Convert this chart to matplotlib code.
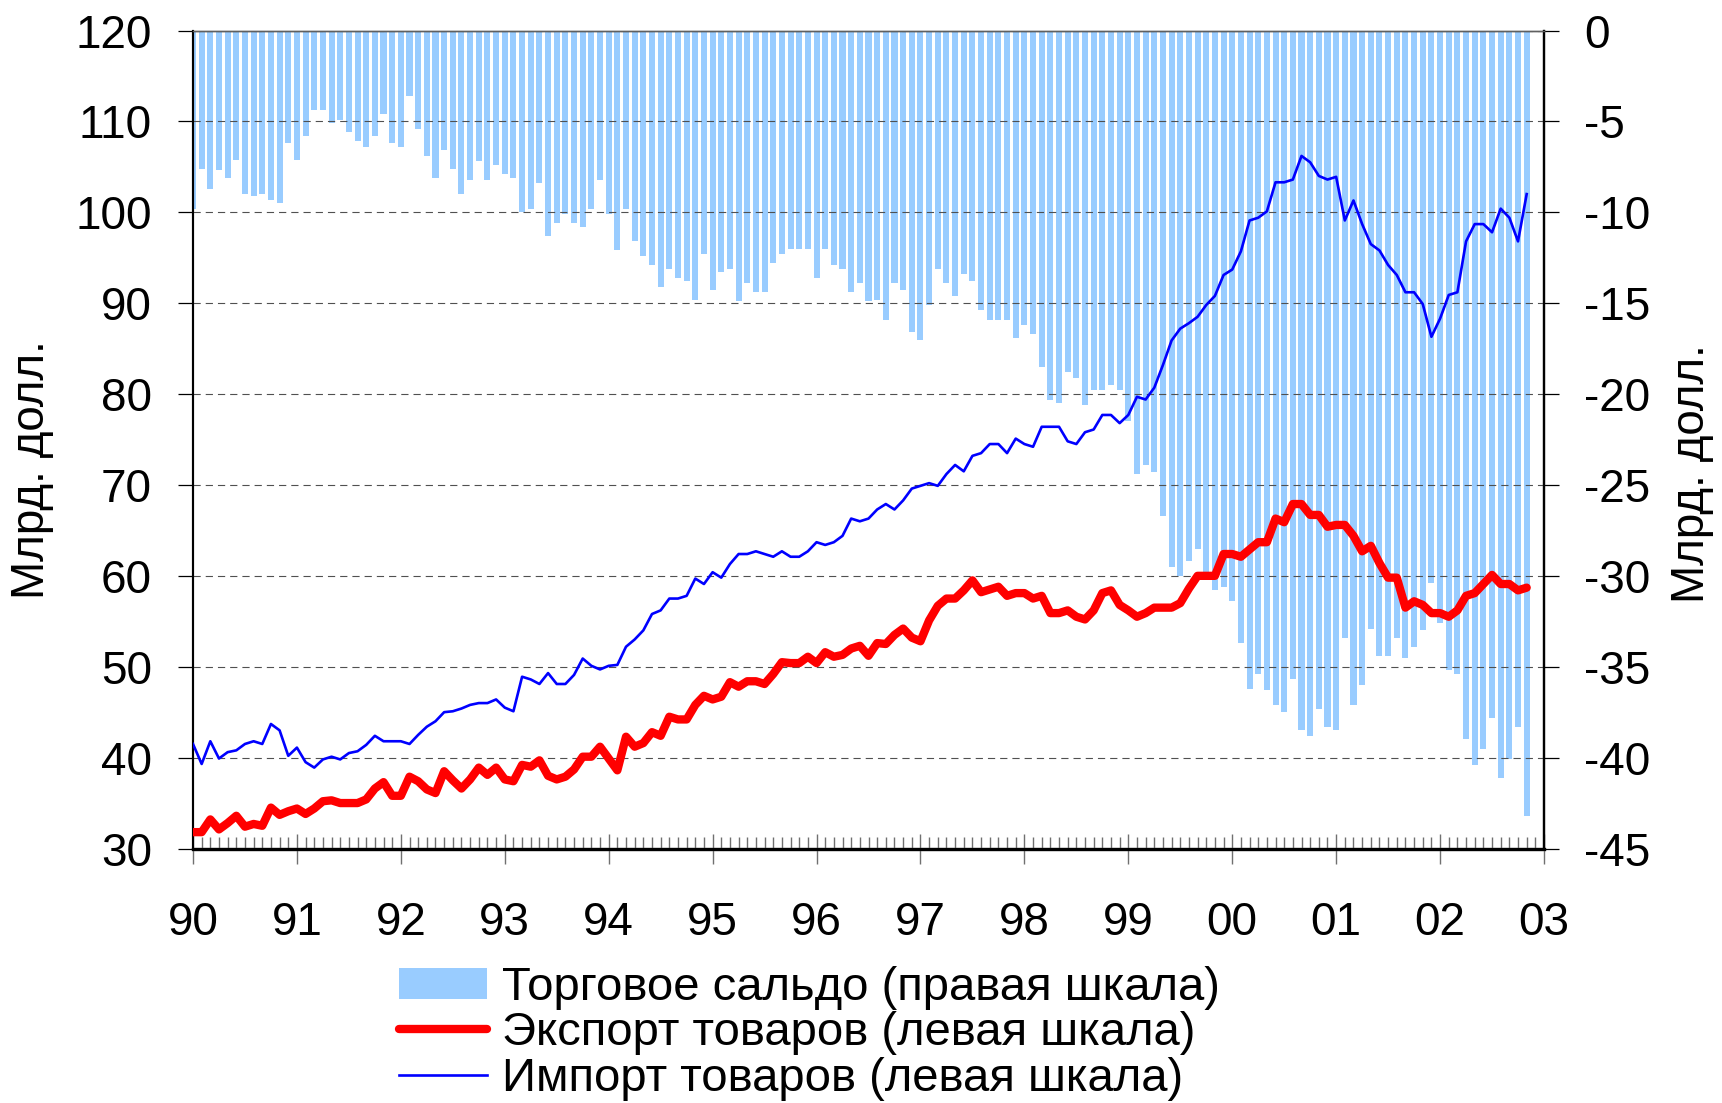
import numpy as np
import matplotlib
matplotlib.use("Agg")
import matplotlib.pyplot as plt
from matplotlib.ticker import MultipleLocator, FixedLocator, FixedFormatter
from matplotlib.patches import Patch
from matplotlib.lines import Line2D

plt.rcParams['font.family'] = ['Liberation Sans', 'DejaVu Sans']
plt.rcParams['axes.unicode_minus'] = False
plt.rcParams['lines.scale_dashes'] = False

# ---- data (monthly, Jan 1990 .. Nov 2002), bn USD ----
year_labels = ["90", "91", "92", "93", "94", "95", "96", "97", "98", "99", "00", "01", "02", "03"]
start_year = 1990

imports = [
    41.5, 39.3, 41.8, 39.9, 40.6, 40.8, 41.5, 41.8, 41.5, 43.7, 43.0, 40.2,
    41.1, 39.5, 38.9, 39.8, 40.1, 39.8, 40.5, 40.7, 41.4, 42.4, 41.8, 41.8,
    41.8, 41.5, 42.5, 43.4, 44.0, 45.0, 45.1, 45.4, 45.8, 46.0, 46.0, 46.4,
    45.5, 45.1, 48.9, 48.6, 48.1, 49.3, 48.1, 48.1, 49.1, 50.9, 50.1, 49.7,
    50.1, 50.2, 52.2, 53.0, 54.0, 55.8, 56.2, 57.5, 57.5, 57.8, 59.7, 59.1,
    60.4, 59.8, 61.3, 62.4, 62.4, 62.7, 62.4, 62.1, 62.7, 62.1, 62.1, 62.7,
    63.7, 63.4, 63.7, 64.4, 66.3, 66.0, 66.3, 67.3, 67.9, 67.3, 68.3, 69.6,
    69.9, 70.2, 69.9, 71.2, 72.2, 71.5, 73.2, 73.5, 74.5, 74.5, 73.5, 75.1,
    74.5, 74.2, 76.4, 76.4, 76.4, 74.8, 74.5, 75.8, 76.1, 77.7, 77.7, 76.8,
    77.7, 79.7, 79.4, 80.7, 83.2, 85.9, 87.2, 87.8, 88.5, 89.8, 90.8, 93.1,
    93.7, 95.7, 99.1, 99.4, 100.1, 103.3, 103.3, 103.6, 106.2, 105.5, 104.0, 103.6,
    103.9, 99.1, 101.3, 98.7, 96.5, 95.8, 94.2, 93.1, 91.2, 91.2, 89.9, 86.3,
    88.3, 90.9, 91.2, 96.8, 98.7, 98.7, 97.8, 100.4, 99.4, 96.8, 102.0,
]

exports = [
    31.8, 31.8, 33.2, 32.1, 32.8, 33.6, 32.4, 32.7, 32.5, 34.5, 33.7, 34.1,
    34.4, 33.8, 34.4, 35.2, 35.3, 35.0, 35.0, 35.0, 35.4, 36.6, 37.3, 35.8,
    35.8, 37.9, 37.4, 36.5, 36.1, 38.5, 37.5, 36.6, 37.6, 38.9, 38.1, 38.9,
    37.6, 37.4, 39.2, 39.0, 39.7, 38.0, 37.6, 37.9, 38.7, 40.1, 40.1, 41.2,
    39.9, 38.6, 42.3, 41.2, 41.6, 42.8, 42.4, 44.5, 44.2, 44.2, 45.8, 46.8,
    46.4, 46.7, 48.3, 47.8, 48.4, 48.4, 48.1, 49.2, 50.5, 50.4, 50.4, 51.1,
    50.4, 51.6, 51.1, 51.3, 52.0, 52.3, 51.2, 52.6, 52.5, 53.5, 54.2, 53.2,
    52.8, 55.1, 56.7, 57.5, 57.5, 58.4, 59.5, 58.2, 58.5, 58.8, 57.8, 58.1,
    58.1, 57.5, 57.8, 55.9, 55.9, 56.2, 55.5, 55.2, 56.2, 58.1, 58.4, 56.8,
    56.2, 55.5, 55.9, 56.5, 56.5, 56.5, 57.0, 58.6, 60.0, 60.0, 60.0, 62.4,
    62.4, 62.1, 62.9, 63.7, 63.7, 66.3, 65.9, 67.9, 67.9, 66.7, 66.7, 65.4,
    65.6, 65.6, 64.4, 62.7, 63.3, 61.4, 59.8, 59.8, 56.5, 57.2, 56.8, 55.9,
    55.9, 55.5, 56.2, 57.8, 58.1, 59.1, 60.1, 59.1, 59.1, 58.4, 58.7,
]

balance = [
    -9.8, -7.6, -8.7, -7.7, -8.1, -7.1, -9.0, -9.1, -9.0, -9.3, -9.5, -6.2,
    -7.1, -5.8, -4.4, -4.4, -5.1, -4.9, -5.6, -6.1, -6.4, -5.8, -4.6, -6.2,
    -6.4, -3.6, -5.4, -6.9, -8.1, -6.6, -7.6, -9.0, -8.2, -7.2, -8.2, -7.4,
    -7.9, -8.1, -10.0, -9.8, -8.4, -11.3, -10.6, -10.1, -10.6, -10.8, -9.8, -8.2,
    -10.1, -12.1, -9.8, -11.6, -12.4, -12.9, -14.1, -13.1, -13.6, -13.8, -14.8, -12.3,
    -14.3, -13.3, -13.1, -14.9, -13.9, -14.4, -14.4, -12.8, -12.3, -12.0, -12.0, -12.0,
    -13.6, -12.0, -12.9, -13.1, -14.4, -13.9, -14.9, -14.8, -15.9, -13.9, -14.3, -16.6,
    -17.0, -15.1, -13.1, -13.9, -14.6, -13.4, -13.8, -15.4, -15.9, -15.9, -15.9, -16.9,
    -16.2, -16.7, -18.5, -20.3, -20.5, -18.8, -19.1, -20.6, -19.8, -19.8, -19.5, -19.8,
    -21.5, -24.4, -23.9, -24.3, -26.7, -29.5, -30.0, -29.2, -28.5, -30.0, -30.8, -30.6,
    -31.4, -33.7, -36.2, -35.4, -36.3, -37.1, -37.5, -35.7, -38.5, -38.8, -37.3, -38.3,
    -38.5, -33.4, -37.1, -36.0, -32.9, -34.4, -34.4, -33.4, -34.5, -33.9, -33.0, -30.4,
    -32.6, -35.2, -35.4, -39.0, -40.4, -39.5, -37.8, -41.1, -40.1, -38.3, -43.2,
]

label_balance = "Торговое сальдо (правая шкала)"
label_export = "Экспорт товаров (левая шкала)"
label_import = "Импорт товаров (левая шкала)"
ylabel_text = "Млрд. долл."

# ---- figure ----
W, H = 1722, 1103
fig = plt.figure(figsize=(W / 100, H / 100), dpi=100)
L, R, T, B = 193, 1544, 30.5, 848.5
ax = fig.add_axes([L / W, 1 - B / H, (R - L) / W, (B - T) / H])
ax2 = ax.twinx()
ax.set_zorder(ax2.get_zorder() + 1)
ax.patch.set_visible(False)

FS = 33
LFS = 34
BAR_C = '#99CCFF'
RED = '#FF0000'
BLUE = '#0000FF'
RED_LW = 6.0
BLUE_LW = 1.9

x = start_year + np.arange(len(exports)) / 12.0

# bars on right axis
ax2.bar(x, balance, width=0.7 / 12, color=BAR_C, linewidth=0, align='center')
ax2.set_ylim(-45, 0)
ax2.yaxis.set_major_locator(MultipleLocator(5))

# lines on left axis
ax.plot(x, exports, color=RED, lw=RED_LW, solid_joinstyle='round', solid_capstyle='round', zorder=4)
ax.plot(x, imports, color=BLUE, lw=BLUE_LW, solid_joinstyle='round', zorder=5)
ax.set_ylim(30, 120)
ax.yaxis.set_major_locator(MultipleLocator(10))
ax.set_xlim(start_year, start_year + len(year_labels) - 1)

# grid
ax.set_axisbelow(True)
ax.yaxis.grid(True, color='#505050', lw=0.8, linestyle=(0, (5.2, 3.6)))

# x ticks
ax.xaxis.set_major_locator(FixedLocator([start_year + k for k in range(len(year_labels))]))
ax.xaxis.set_major_formatter(FixedFormatter(year_labels))
ax.xaxis.set_minor_locator(MultipleLocator(1 / 12))
ax.tick_params(axis='x', which='major', direction='inout', length=22, width=1,
               color='#707070', labelsize=FS, pad=27)
ax.tick_params(axis='x', which='minor', direction='in', length=8.5, width=1, color='#707070')
ax.tick_params(axis='y', which='major', direction='out', length=10.5, width=0.9,
               color='black', labelsize=FS, pad=19)
ax2.tick_params(axis='y', which='major', direction='out', length=11, width=0.9,
                color='black', labelsize=FS, pad=18)

# spines
for a in (ax, ax2):
    a.spines['left'].set_linewidth(1.5)
    a.spines['right'].set_linewidth(1.6)
    a.spines['bottom'].set_linewidth(2.3)
    a.spines['top'].set_linewidth(1.0)
    a.spines['top'].set_color('#606060')

# axis labels
ax.set_ylabel(ylabel_text, fontsize=FS)
ax.yaxis.label.set_va('center')
ax.yaxis.set_label_coords((32.5 - L) / (R - L), (B - 470) / (B - T))
ax2.set_ylabel(ylabel_text, fontsize=FS, rotation=90)
ax2.yaxis.label.set_va('center')
ax2.yaxis.set_label_coords((1692 - L) / (R - L), (B - 474) / (B - T))

# legend
em = LFS * 100 / 72.0
handles = [
    Patch(facecolor=BAR_C, edgecolor='none'),
    Line2D([], [], color=RED, lw=RED_LW, solid_capstyle='round'),
    Line2D([], [], color=BLUE, lw=BLUE_LW),
]
leg = fig.legend(handles, [label_balance, label_export, label_import],
                 loc='upper left', bbox_to_anchor=(398.6 / W, 1 - 966 / H),
                 frameon=False, fontsize=LFS, borderpad=0, borderaxespad=0,
                 handlelength=88 / em, handleheight=31 / em, handletextpad=15 / em,
                 labelspacing=0.03)

fig.savefig("out.png", dpi=100)
